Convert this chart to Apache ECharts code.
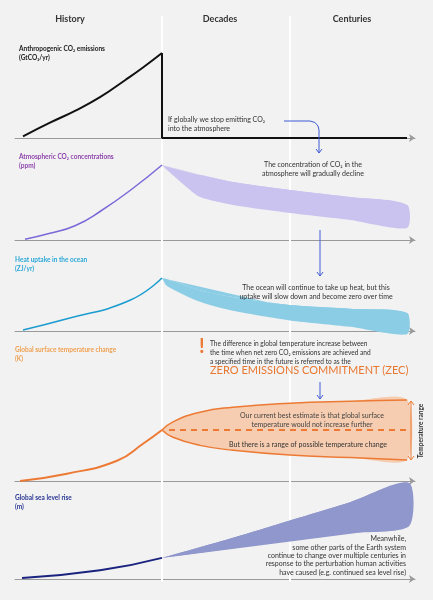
<!DOCTYPE html>
<html><head><meta charset="utf-8">
<script src="https://cdn.jsdelivr.net/npm/echarts@6/dist/echarts.min.js"></script>
<style>html,body{margin:0;padding:0;background:#f2f2f2}#c{width:433px;height:600px}</style>
</head><body><div id="c"></div>
<script>
const columns = ['History','Decades','Centuries'];
const panelTitles = ['Anthropogenic CO₂ emissions\n(GtCO₂/yr)','Atmospheric CO₂ concentrations\n(ppm)','Heat uptake in the ocean\n(ZJ/yr)','Global surface temperature change\n(K)','Global sea level rise\n(m)'];
const netZeroX = 36.75, centuriesX = 68.75;
const emHist = [[2,0.2],[8.75,1.8],[15,3.2],[21.25,4.8],[27.5,6.8],[32,8.3],[36.75,10]];
const emAfter = [[36.75,10],[36.75,0],[98,0]];
const co2Hist = [[2.5,0.1],[8.75,0.9],[15,1.9],[21.25,3.8],[29.5,6.9],[36.75,10]];
const co2X = [36.75,38,43,46.25,54.5,68.75,83.75,98];
const co2Up = [10,9.8,9.07,8.7,7.73,6.67,5.73,4.67];
const co2Lo = [10,9.33,7.0,5.73,4.67,3.6,2.67,1.6];
const heatHist = [[2,0.2],[13,2.3],[28.75,5.8],[36.75,10]];
const heatX = [36.75,38,46.25,54.5,68.75,83.75,98];
const heatUp = [10,9.8,7.7,6.4,4.9,4.2,3.4];
const heatLo = [10,8.5,5.5,3.8,2.0,0.8,-0.6];
const tempHist = [[1.25,0],[13,0.9],[25.5,2.5],[32,4.6],[36.75,6.3]];
const tempX = [36.75,39.5,46.25,54.5,68.75,83.75,98];
const tempUp = [6.3,7.3,8.5,9.1,9.6,9.85,10];
const tempLo = [6.3,5.4,4.4,3.8,3.2,2.9,2.6];
const tempBest = [[38.5,6.3],[98,6.3]];
const seaHist = [[1.75,0.1],[21.25,0.9],[36.75,2.2]];
const seaX = [36.75,54.5,68.75,83.75,98.5];
const seaUp = [2.2,4.3,6.1,8.0,10];
const seaLo = [2.2,3.2,4.1,4.8,5.5];

const FONT = 'Lato';
const grids = [[53,85],[165,75],[278,53],[400,81],[483,96]].map(([t,h])=>({left:15,width:400,top:t,height:h}));
const xAxes = grids.map((g,i)=>({gridIndex:i,type:'value',min:0,max:100,axisLabel:{show:false},axisTick:{show:false},splitLine:{show:false},
  axisLine:{lineStyle:{color:'#9a9a9a',width:1},symbol:['none','arrow'],symbolSize:[6,6]}}));
const yAxes = grids.map((g,i)=>({gridIndex:i,type:'value',min:0,max:10,show:false}));
const pairs = (xs,ys)=>xs.map((x,i)=>[x,ys[i]]);
function line(i,data,color,w,extra){return Object.assign({type:'line',xAxisIndex:i,yAxisIndex:i,data,smooth:true,symbol:'none',clip:false,lineStyle:{color,width:w},z:3},extra||{});}
function band(i,xs,up,lo,fill){
  const data = xs.map((x,k)=>[x,lo[k],up[k]]);
  return {type:'custom',xAxisIndex:i,yAxisIndex:i,data,clip:false,z:2,
    renderItem:(params,api)=>{
      if(params.dataIndex!==0) return null;
      const top=data.map(d=>api.coord([d[0],d[2]]));
      const bot=data.map(d=>api.coord([d[0],d[1]])).reverse();
      return {type:'group',children:[
        {type:'polyline',shape:{points:top.concat(bot.slice(0,1)),smooth:0.3},style:{fill:fill,stroke:null}},
        {type:'polygon',shape:{points:top.concat(bot),smooth:0.25},style:{fill:fill,stroke:null}}
      ]};
    }};
}
const series = [
  line(0,emHist,'#111',2),
  line(0,emAfter,'#111',2,{smooth:false}),
  line(1,co2Hist,'#7b68d8',1.5),
  band(1,co2X,co2Up,co2Lo,'#cbc3ef'),
  line(2,heatHist,'#1a9bd0',1.5),
  band(2,heatX,heatUp,heatLo,'#8ccde6'),
  line(3,tempHist,'#ec7a34',2),
  band(3,tempX,tempUp,tempLo,'#f6cdb0'),
  line(3,pairs(tempX,tempUp),'#ec7a34',1.5),
  line(3,pairs(tempX,tempLo),'#ec7a34',1.5),
  line(3,tempBest,'#ec7a34',2,{smooth:false,lineStyle:{color:'#ec7a34',width:2,type:[6,5]}}),
  line(4,seaHist,'#1a237e',2),
  band(4,seaX,seaUp,seaLo,'#8f97cc')
];
const chart = echarts.init(document.getElementById('c'));
chart.setOption({backgroundColor:'#f2f2f2',animation:false,grid:grids,xAxis:xAxes,yAxis:yAxes,series});

const vx1 = chart.convertToPixel({xAxisIndex:0},netZeroX);
const vx2 = chart.convertToPixel({xAxisIndex:0},centuriesX);
const g = [];
g.push({type:'rect',shape:{x:vx1-1,y:16,width:2,height:566},style:{fill:'#fff'},z:1});
g.push({type:'rect',shape:{x:vx2-1,y:16,width:2,height:566},style:{fill:'#fff'},z:1});
function txt(x,y,text,o){g.push({type:'text',x,y,z:10,style:Object.assign({text,font:'7px '+FONT,fill:'#333',lineHeight:9},o||{})});}
[[70,columns[0]],[220,columns[1]],[352,columns[2]]].forEach(([x,t])=>txt(x,15,t,{font:'bold 9px '+FONT,fill:'#333',align:'center'}));
const tcol=['#222','#8e44ad','#29a8d8','#f0a050','#283593'];
const ty=[44,152,255,345,493];
panelTitles.forEach((t,i)=>txt(i>=2?15:19,ty[i],t,{font:'bold 6.5px '+FONT,fill:tcol[i]}));
const blue='#3f5bd6';
function pl(points,color){g.push({type:'polyline',z:10,shape:{points},style:{stroke:color||blue,lineWidth:1,fill:null}});}
function arrow(pts){pl(pts);const [x,y]=pts[pts.length-1];pl([[x-3,y-4],[x,y],[x+3,y-4]]);}
txt(168,115,'If globally we stop emitting CO₂\ninto the atmosphere');
pl([[284,121],[310,121],[315,122.5],[318,126],[319,130],[319,153]]);
pl([[316,149],[319,153],[322,149]]);
txt(313,160,'The concentration of CO₂ in the\natmosphere will gradually decline',{align:'center'});
arrow([[320,230],[320,276]]);
txt(316,283,'The ocean will continue to take up heat, but this\nuptake will slow down and become zero over time',{align:'center'});
txt(199,337,'!',{font:'bold 20px '+FONT,fill:'#ec7a34',lineHeight:20});
txt(210,339,'The difference in global temperature increase between\nthe time when net zero CO₂ emissions are achieved and\na specified time in the future is referred to as the',{font:'6.6px '+FONT});
txt(210,366,'ZERO EMISSIONS COMMITMENT (ZEC)',{font:'11px '+FONT,fill:'#e87830'});
arrow([[320,382],[320,399]]);
txt(312,411,'Our current best estimate is that global surface\ntemperature would not increase further',{align:'center',fill:'#444'});
txt(308,440,'But there is a range of possible temperature change',{align:'center',fill:'#333'});
g.push({type:'line',z:10,shape:{x1:411,y1:401,x2:411,y2:460},style:{stroke:'#ec7a34',lineWidth:1}});
pl([[408,405],[411,401],[414,405]],'#ec7a34');
pl([[408,456],[411,460],[414,456]],'#ec7a34');
g.push({type:'text',z:10,x:421,y:431,rotation:Math.PI/2,style:{text:'Temperature range',font:'bold 6.5px '+FONT,fill:'#333',align:'center',verticalAlign:'middle'}});
txt(406,535,'Meanwhile,\nsome other parts of the Earth system\ncontinue to change over multiple centuries in\nresponse to the perturbation human activities\nhave caused (e.g. continued sea level rise)',{align:'right',lineHeight:8.3});
chart.setOption({graphic:g});
</script></body></html>
